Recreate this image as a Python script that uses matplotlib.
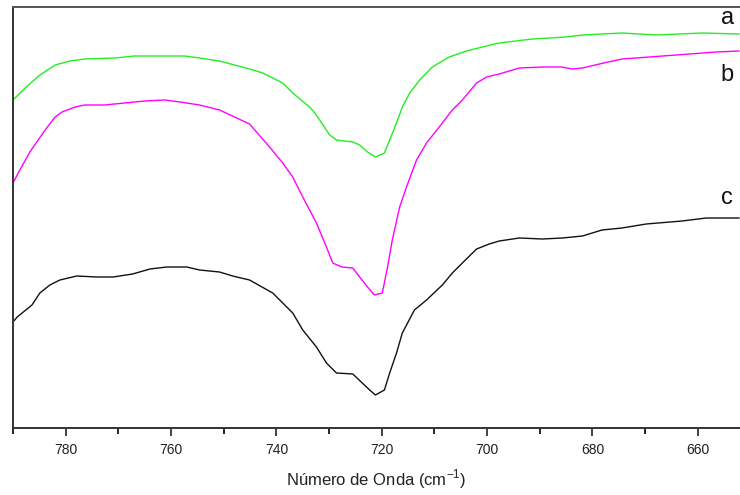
import matplotlib.pyplot as plt
import numpy as np

plt.rcParams['font.family'] = ['Liberation Sans', 'DejaVu Sans']

# curva a (verde)
wn_a = [790.0, 787.7, 784.9, 782.0, 779.2, 776.4, 770.7, 766.9, 757.4, 754.6, 750.8,
        745.1, 742.6, 738.8, 736.9, 733.7, 732.7, 731.4, 729.9, 728.6, 725.5, 724.2,
        722.7, 721.2, 719.5, 718.5, 717.2, 716.1, 714.7, 712.8, 710.4, 707.2, 703.9,
        700.9, 697.7, 691.4, 685.0, 681.9, 674.4, 667.9, 659.2, 652.2]
t_a = [328, 340, 353, 363, 367, 369, 370, 372, 372, 370, 367,
       359, 355, 345, 335, 321, 315, 305, 293, 288, 286, 283,
       276, 271, 275, 288, 305, 321, 335, 348, 361, 371, 377,
       381, 385, 389, 391, 393, 395, 393, 395, 394]

# curva b (magenta)
wn_b = [790.0, 788.7, 786.8, 783.9, 782.0, 780.7, 778.2, 776.4, 772.6, 768.8, 765.0,
        761.2, 758.3, 754.6, 750.8, 745.1, 741.3, 738.8, 736.9, 735.0, 732.4, 730.5,
        729.3, 727.6, 725.5, 724.2, 722.7, 721.4, 719.9, 718.9, 718.0, 716.6, 715.3,
        713.4, 711.5, 709.1, 706.6, 704.7, 702.0, 700.1, 697.7, 693.9, 689.5, 685.9,
        683.8, 681.9, 678.7, 674.4, 669.2, 664.1, 656.5, 652.2]
t_b = [245, 258, 276, 298, 311, 316, 321, 323, 323, 325, 327,
       328, 326, 323, 318, 304, 281, 265, 251, 231, 205, 181,
       165, 161, 160, 151, 141, 133, 135, 161, 188, 221, 241,
       268, 285, 301, 318, 328, 345, 351, 354, 360, 361, 361,
       359, 360, 364, 369, 371, 373, 376, 377]

# curva c (preta)
wn_c = [790.0, 789.2, 786.4, 784.9, 783.0, 781.1, 777.9, 774.1, 771.0, 767.3, 764.0,
        760.8, 757.0, 754.6, 750.8, 748.3, 745.1, 740.7, 736.9, 735.0, 732.4, 730.5,
        728.6, 725.5, 723.7, 722.3, 721.2, 719.5, 718.5, 717.2, 716.1, 713.8, 711.5,
        708.5, 706.6, 704.7, 702.0, 699.6, 697.7, 693.9, 689.5, 685.7, 681.9, 678.2,
        674.4, 669.8, 663.0, 658.4, 652.2]
t_c = [106, 111, 123, 135, 143, 148, 152, 151, 151, 154, 159,
       161, 161, 158, 156, 152, 148, 135, 115, 98, 81, 65,
       55, 54, 45, 38, 33, 38, 55, 75, 95, 118, 128,
       143, 155, 165, 179, 184, 187, 190, 189, 190, 192, 198,
       200, 204, 207, 210, 210]

labels = ['a', 'b', 'c']
label_y = [410, 353, 230]

fig = plt.figure(figsize=(7.4, 4.95), dpi=100)
ax = fig.add_axes([13/740, 1 - 428/495, 1 - 13/740, (428 - 7)/495])

ax.plot(wn_a, t_a, color='#22ee22', lw=1.0)
ax.plot(wn_b, t_b, color='#ff00ff', lw=1.0)
ax.plot(wn_c, t_c, color='#111111', lw=1.0)

for lab, ly in zip(labels, label_y):
    ax.text(654.4, ly, lab, fontsize=17, ha='center', va='center', color='#111111')

ax.set_xlim(790, 652)
ax.set_ylim(0, 421)
ax.set_xticks(np.arange(780, 651, -20))
ax.set_xticks(np.arange(790, 651, -10), minor=True)
ax.set_yticks([])
ax.tick_params(axis='x', which='major', direction='out', length=6, width=1.2,
               labelsize=10, pad=5, colors='#222222')
ax.tick_params(axis='x', which='minor', direction='out', length=4, width=1.2)
ax.spines['right'].set_visible(False)
ax.spines['left'].set_linewidth(1.4)
ax.spines['bottom'].set_linewidth(1.4)
ax.spines['top'].set_linewidth(1.4)
ax.spines['top'].set_color('#555555')
ax.spines['left'].set_color('#333333')
ax.spines['bottom'].set_color('#333333')
ax.set_xlabel('Número de Onda (cm$^{\\mathregular{-1}}$)', fontsize=12, labelpad=7,
              color='#222222')

fig.savefig('out.png', dpi=100)
